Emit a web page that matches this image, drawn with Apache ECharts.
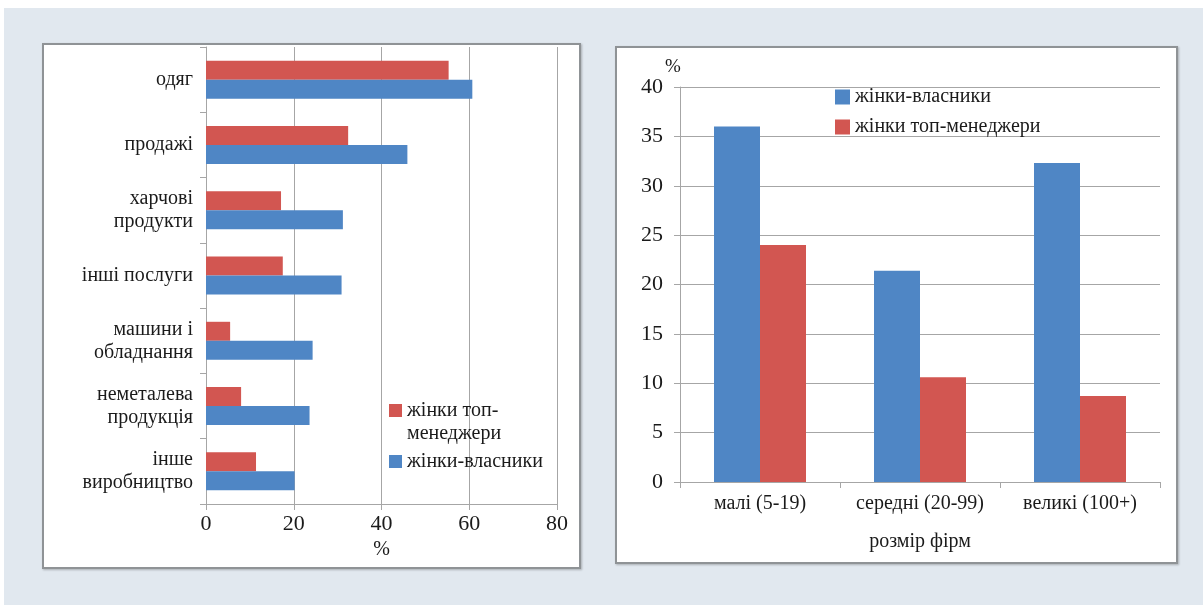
<!DOCTYPE html>
<html>
<head>
<meta charset="utf-8">
<script src="https://cdn.jsdelivr.net/npm/echarts@6/dist/echarts.min.js"></script>
<style>
body { margin: 0; width: 1203px; height: 605px; background: #fff; overflow: hidden; }
#bg { position: absolute; left: 4px; top: 8px; width: 1199px; height: 597px; background: #e1e8ef; }
.panel { position: absolute; background: #fff; border: 2px solid #8f9396; box-shadow: 1px 1px 2px rgba(0,0,0,.25); }
#left { left: 42px; top: 43px; width: 535px; height: 522px; }
#right { left: 615px; top: 46px; width: 559px; height: 514px; }
.chart { width: 100%; height: 100%; }
</style>
</head>
<body>
<div id="bg"></div>
<div class="panel" id="left"><div class="chart" id="barH"></div></div>
<div class="panel" id="right"><div class="chart" id="barV"></div></div>
<script>
// ліва діаграма: галузі
var sectors = ['одяг', 'продажі', 'харчові\nпродукти', 'інші послуги', 'машини і\nобладнання', 'неметалева\nпродукція', 'інше\nвиробництво'];
var sectorManagers = [55.3, 32.4, 17.1, 17.5, 5.5, 8.0, 11.4];
var sectorOwners = [60.7, 45.9, 31.2, 30.9, 24.3, 23.6, 20.2];
var pctTicks = [0, 20, 40, 60, 80];

// права діаграма: розмір фірм
var firmSizes = ['малі (5-19)', 'середні (20-99)', 'великі (100+)'];
var sizeOwners = [36.0, 21.4, 32.3];
var sizeManagers = [24.0, 10.6, 8.7];
var shareTicks = [0, 5, 10, 15, 20, 25, 30, 35, 40];

var FONT = 'Liberation Serif';
var TXT = '#1a1a1a';
var GRID = '#a6a6a6';
var BLUE = '#4f86c5';
var RED = '#d25651';
var MGR = 'жінки топ-менеджери';
var OWN = 'жінки-власники';

var chartL = echarts.init(document.getElementById('barH'));
chartL.setOption({
    animation: false,
    grid: { left: 162, top: 2, width: 351, height: 457 },
    legend: [
        {
            // порожній рядок зверху, щоб перший рядок підпису стояв навпроти значка
            data: [MGR], left: 345, top: 331, padding: 0,
            icon: 'rect', itemWidth: 13, itemHeight: 13,
            textStyle: { fontFamily: FONT, fontSize: 20, color: TXT, lineHeight: 23 },
            formatter: function () { return ' \nжінки топ-\nменеджери'; }
        },
        {
            data: [OWN], left: 345, top: 405, padding: 0,
            icon: 'rect', itemWidth: 13, itemHeight: 13,
            textStyle: { fontFamily: FONT, fontSize: 20, color: TXT, lineHeight: 23 }
        }
    ],
    xAxis: {
        type: 'value',
        min: pctTicks[0], max: pctTicks[pctTicks.length - 1], interval: 20,
        name: '%', nameLocation: 'middle', nameGap: 33,
        nameTextStyle: { fontFamily: FONT, fontSize: 20, color: TXT },
        axisLine: { show: true, lineStyle: { color: GRID } },
        axisTick: { show: true, length: 6, lineStyle: { color: GRID } },
        axisLabel: { fontFamily: FONT, fontSize: 22, color: TXT, margin: 9 },
        splitLine: { lineStyle: { color: GRID } }
    },
    yAxis: {
        type: 'category',
        data: sectors,
        inverse: true,
        axisLine: { show: true, lineStyle: { color: GRID } },
        axisTick: { show: true, length: 6, lineStyle: { color: GRID } },
        axisLabel: { fontFamily: FONT, fontSize: 20, color: TXT, margin: 13, lineHeight: 23, interval: 0 }
    },
    series: [
        { name: MGR, type: 'bar', data: sectorManagers, barWidth: 19, barGap: '0%', itemStyle: { color: RED } },
        { name: OWN, type: 'bar', data: sectorOwners, barWidth: 19, barGap: '0%', itemStyle: { color: BLUE } }
    ]
});

var chartR = echarts.init(document.getElementById('barV'));
chartR.setOption({
    animation: false,
    grid: { left: 63, top: 39, width: 480, height: 395 },
    legend: {
        orient: 'vertical',
        left: 218, top: 39, padding: 0,
        icon: 'rect', itemWidth: 15, itemHeight: 15, itemGap: 10,
        textStyle: { fontFamily: FONT, fontSize: 20, color: TXT, lineHeight: 20 }
    },
    xAxis: {
        type: 'category',
        data: firmSizes,
        name: 'розмір фірм', nameLocation: 'middle', nameGap: 50,
        nameTextStyle: { fontFamily: FONT, fontSize: 20, color: TXT },
        axisLine: { show: true, lineStyle: { color: GRID } },
        axisTick: { show: true, length: 6, interval: 0, lineStyle: { color: GRID } },
        axisLabel: { fontFamily: FONT, fontSize: 20, color: TXT, margin: 12, interval: 0, hideOverlap: false }
    },
    yAxis: {
        type: 'value',
        min: shareTicks[0], max: shareTicks[shareTicks.length - 1], interval: 5,
        name: '%', nameLocation: 'end', nameGap: 8,
        nameTextStyle: { fontFamily: FONT, fontSize: 19, color: TXT, padding: [0, 14, 0, 0] },
        axisLine: { show: true, lineStyle: { color: GRID } },
        axisTick: { show: true, length: 6, lineStyle: { color: GRID } },
        axisLabel: { fontFamily: FONT, fontSize: 22, color: TXT, margin: 17 },
        splitLine: { lineStyle: { color: GRID } }
    },
    series: [
        { name: OWN, type: 'bar', data: sizeOwners, barWidth: 46, barGap: '0%', itemStyle: { color: BLUE } },
        { name: MGR, type: 'bar', data: sizeManagers, barWidth: 46, barGap: '0%', itemStyle: { color: RED } }
    ]
});
</script>
</body>
</html>
